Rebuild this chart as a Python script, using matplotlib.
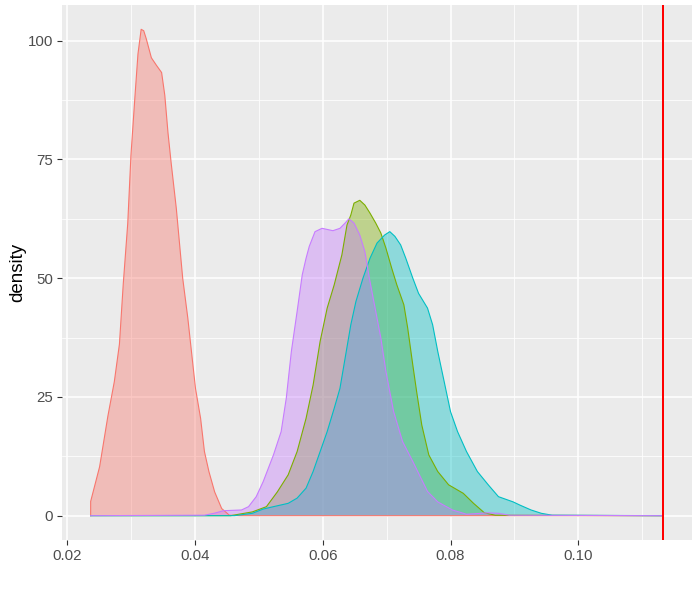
import numpy as np
import matplotlib
matplotlib.use("Agg")
import matplotlib.pyplot as plt

# ======================== DATA ========================
# density curves (x, density)
X_MIN = 0.0237
X_MAX = 0.1133
VLINE_X = 0.1133

red_x = [0.0237, 0.0237, 0.0251, 0.0264, 0.0274, 0.0282, 0.0288, 0.0295, 0.0300, 0.0306,
         0.0311, 0.0316, 0.0320, 0.0324, 0.0332, 0.0340, 0.0348, 0.0353, 0.0358, 0.0363,
         0.0371, 0.0381, 0.0389, 0.0401, 0.0409, 0.0415, 0.0422, 0.0431, 0.0442, 0.0454,
         0.0470, 0.1133]
red_y = [0.0, 3.0, 10.3, 21.0, 28.2, 36.1, 48.8, 61.5, 75.8, 87.7,
         97.2, 102.4, 102.1, 100.4, 96.4, 94.8, 93.3, 88.5, 80.6, 74.2,
         64.7, 50.0, 41.6, 26.8, 20.5, 13.5, 9.3, 5.0, 1.5, 0.1,
         0.0, 0.0]

green_x = [0.0237, 0.0456, 0.0490, 0.0512, 0.0529, 0.0546, 0.0560, 0.0574, 0.0585, 0.0596,
           0.0607, 0.0618, 0.0630, 0.0638, 0.0644, 0.0649, 0.0658, 0.0666, 0.0674, 0.0683,
           0.0691, 0.0699, 0.0708, 0.0716, 0.0727, 0.0733, 0.0741, 0.0747, 0.0755, 0.0766,
           0.0780, 0.0797, 0.0820, 0.0836, 0.0853, 0.0870, 0.1133]
green_y = [0.0, 0.0, 0.8, 1.9, 5.0, 8.6, 13.5, 20.5, 27.5, 36.7,
           43.7, 48.6, 54.9, 61.2, 63.3, 65.8, 66.4, 65.4, 63.7, 61.6,
           59.5, 56.3, 52.1, 48.6, 44.4, 39.5, 31.7, 26.1, 19.1, 12.8,
           9.3, 6.5, 4.7, 2.6, 0.6, 0.1, 0.0]

cyan_x = [0.0237, 0.0462, 0.0490, 0.0507, 0.0523, 0.0546, 0.0560, 0.0574, 0.0585, 0.0596,
          0.0607, 0.0618, 0.0627, 0.0635, 0.0644, 0.0652, 0.0663, 0.0674, 0.0685, 0.0697,
          0.0705, 0.0713, 0.0722, 0.0730, 0.0741, 0.0750, 0.0764, 0.0772, 0.0780, 0.0789,
          0.0800, 0.0811, 0.0825, 0.0842, 0.0859, 0.0875, 0.0898, 0.0909, 0.0926, 0.0942,
          0.0959, 0.1133]
cyan_y = [0.0, 0.0, 0.5, 1.4, 1.9, 2.6, 3.7, 5.8, 9.3, 13.5,
          17.7, 22.6, 26.8, 33.1, 40.2, 45.1, 50.0, 54.2, 57.4, 59.1,
          59.8, 58.8, 57.0, 54.2, 50.0, 46.8, 43.7, 40.2, 34.6, 28.9,
          21.9, 17.7, 13.5, 9.3, 6.5, 4.0, 2.9, 2.2, 1.2, 0.5,
          0.1, 0.0]

purple_x = [0.0237, 0.0415, 0.0430, 0.0445, 0.0473, 0.0484, 0.0496, 0.0507, 0.0523, 0.0535,
            0.0543, 0.0551, 0.0560, 0.0568, 0.0574, 0.0579, 0.0588, 0.0599, 0.0616, 0.0627,
            0.0635, 0.0641, 0.0649, 0.0658, 0.0666, 0.0673, 0.0680, 0.0691, 0.0699, 0.0711,
            0.0725, 0.0741, 0.0764, 0.0780, 0.0803, 0.0825, 0.0859, 0.0875, 0.0892, 0.1133]
purple_y = [0.0, 0.1, 0.5, 1.05, 1.2, 1.9, 4.0, 7.2, 12.8, 17.7,
            24.7, 34.6, 43.0, 50.7, 54.2, 56.7, 59.8, 60.5, 60.0, 60.5,
            61.6, 62.5, 61.6, 59.1, 55.6, 50.0, 45.1, 37.4, 30.3, 21.9,
            15.6, 11.4, 5.1, 2.9, 1.2, 0.3, 0.6, 0.5, 0.1, 0.0]

groups = [
    (red_x, red_y, '#F8766D'),
    (green_x, green_y, '#7CAE00'),
    (cyan_x, cyan_y, '#00BFC4'),
    (purple_x, purple_y, '#C77CFF'),
]

x_ticks = [0.02, 0.04, 0.06, 0.08, 0.10]
x_tick_labels = ['0.02', '0.04', '0.06', '0.08', '0.10']
y_ticks = [0, 25, 50, 75, 100]

# ======================== PLOT ========================
plt.rcParams['font.family'] = ['Liberation Sans', 'DejaVu Sans']

fig = plt.figure(figsize=(7, 6), dpi=100)
ax = fig.add_axes([0.0886, 0.1, 0.9, 0.8917])
ax.set_facecolor('#EBEBEB')

for gx, gy, col in groups:
    ax.fill_between(gx, gy, 0, facecolor=col, alpha=0.4, linewidth=0, zorder=3)
    ax.plot(gx, gy, color=col, linewidth=0.8, zorder=4)

# observed value
ax.axvline(VLINE_X, color=(1.0, 0.0, 0.0), linewidth=1.1, zorder=6,
           antialiased=False)

# ggplot style 5% expansion
y_top = max(max(g[1]) for g in groups)
xr = X_MAX - X_MIN
ax.set_xlim(X_MIN - 0.05 * xr, X_MAX + 0.05 * xr)
ax.set_ylim(-0.05 * y_top, y_top * 1.05)

ax.set_xticks(x_ticks)
ax.set_xticklabels(x_tick_labels)
ax.set_yticks(y_ticks)
ax.set_xticks([0.03, 0.05, 0.07, 0.09, 0.11], minor=True)
ax.set_yticks([12.5, 37.5, 62.5, 87.5], minor=True)

ax.grid(which='major', color='white', linewidth=1.1, zorder=0)
ax.grid(which='minor', color='white', linewidth=0.55, zorder=0)
ax.set_axisbelow(True)

ax.tick_params(which='major', length=3.5, width=0.8, color='#333333',
               labelcolor='#4D4D4D', labelsize=10.8, pad=3)
ax.tick_params(which='minor', length=0)
for s in ax.spines.values():
    s.set_visible(False)

ax.set_ylabel('density', fontsize=13.5, color='black', va='center')
ax.yaxis.set_label_coords(-0.071, 0.5)

fig.savefig('out.png', dpi=100)
